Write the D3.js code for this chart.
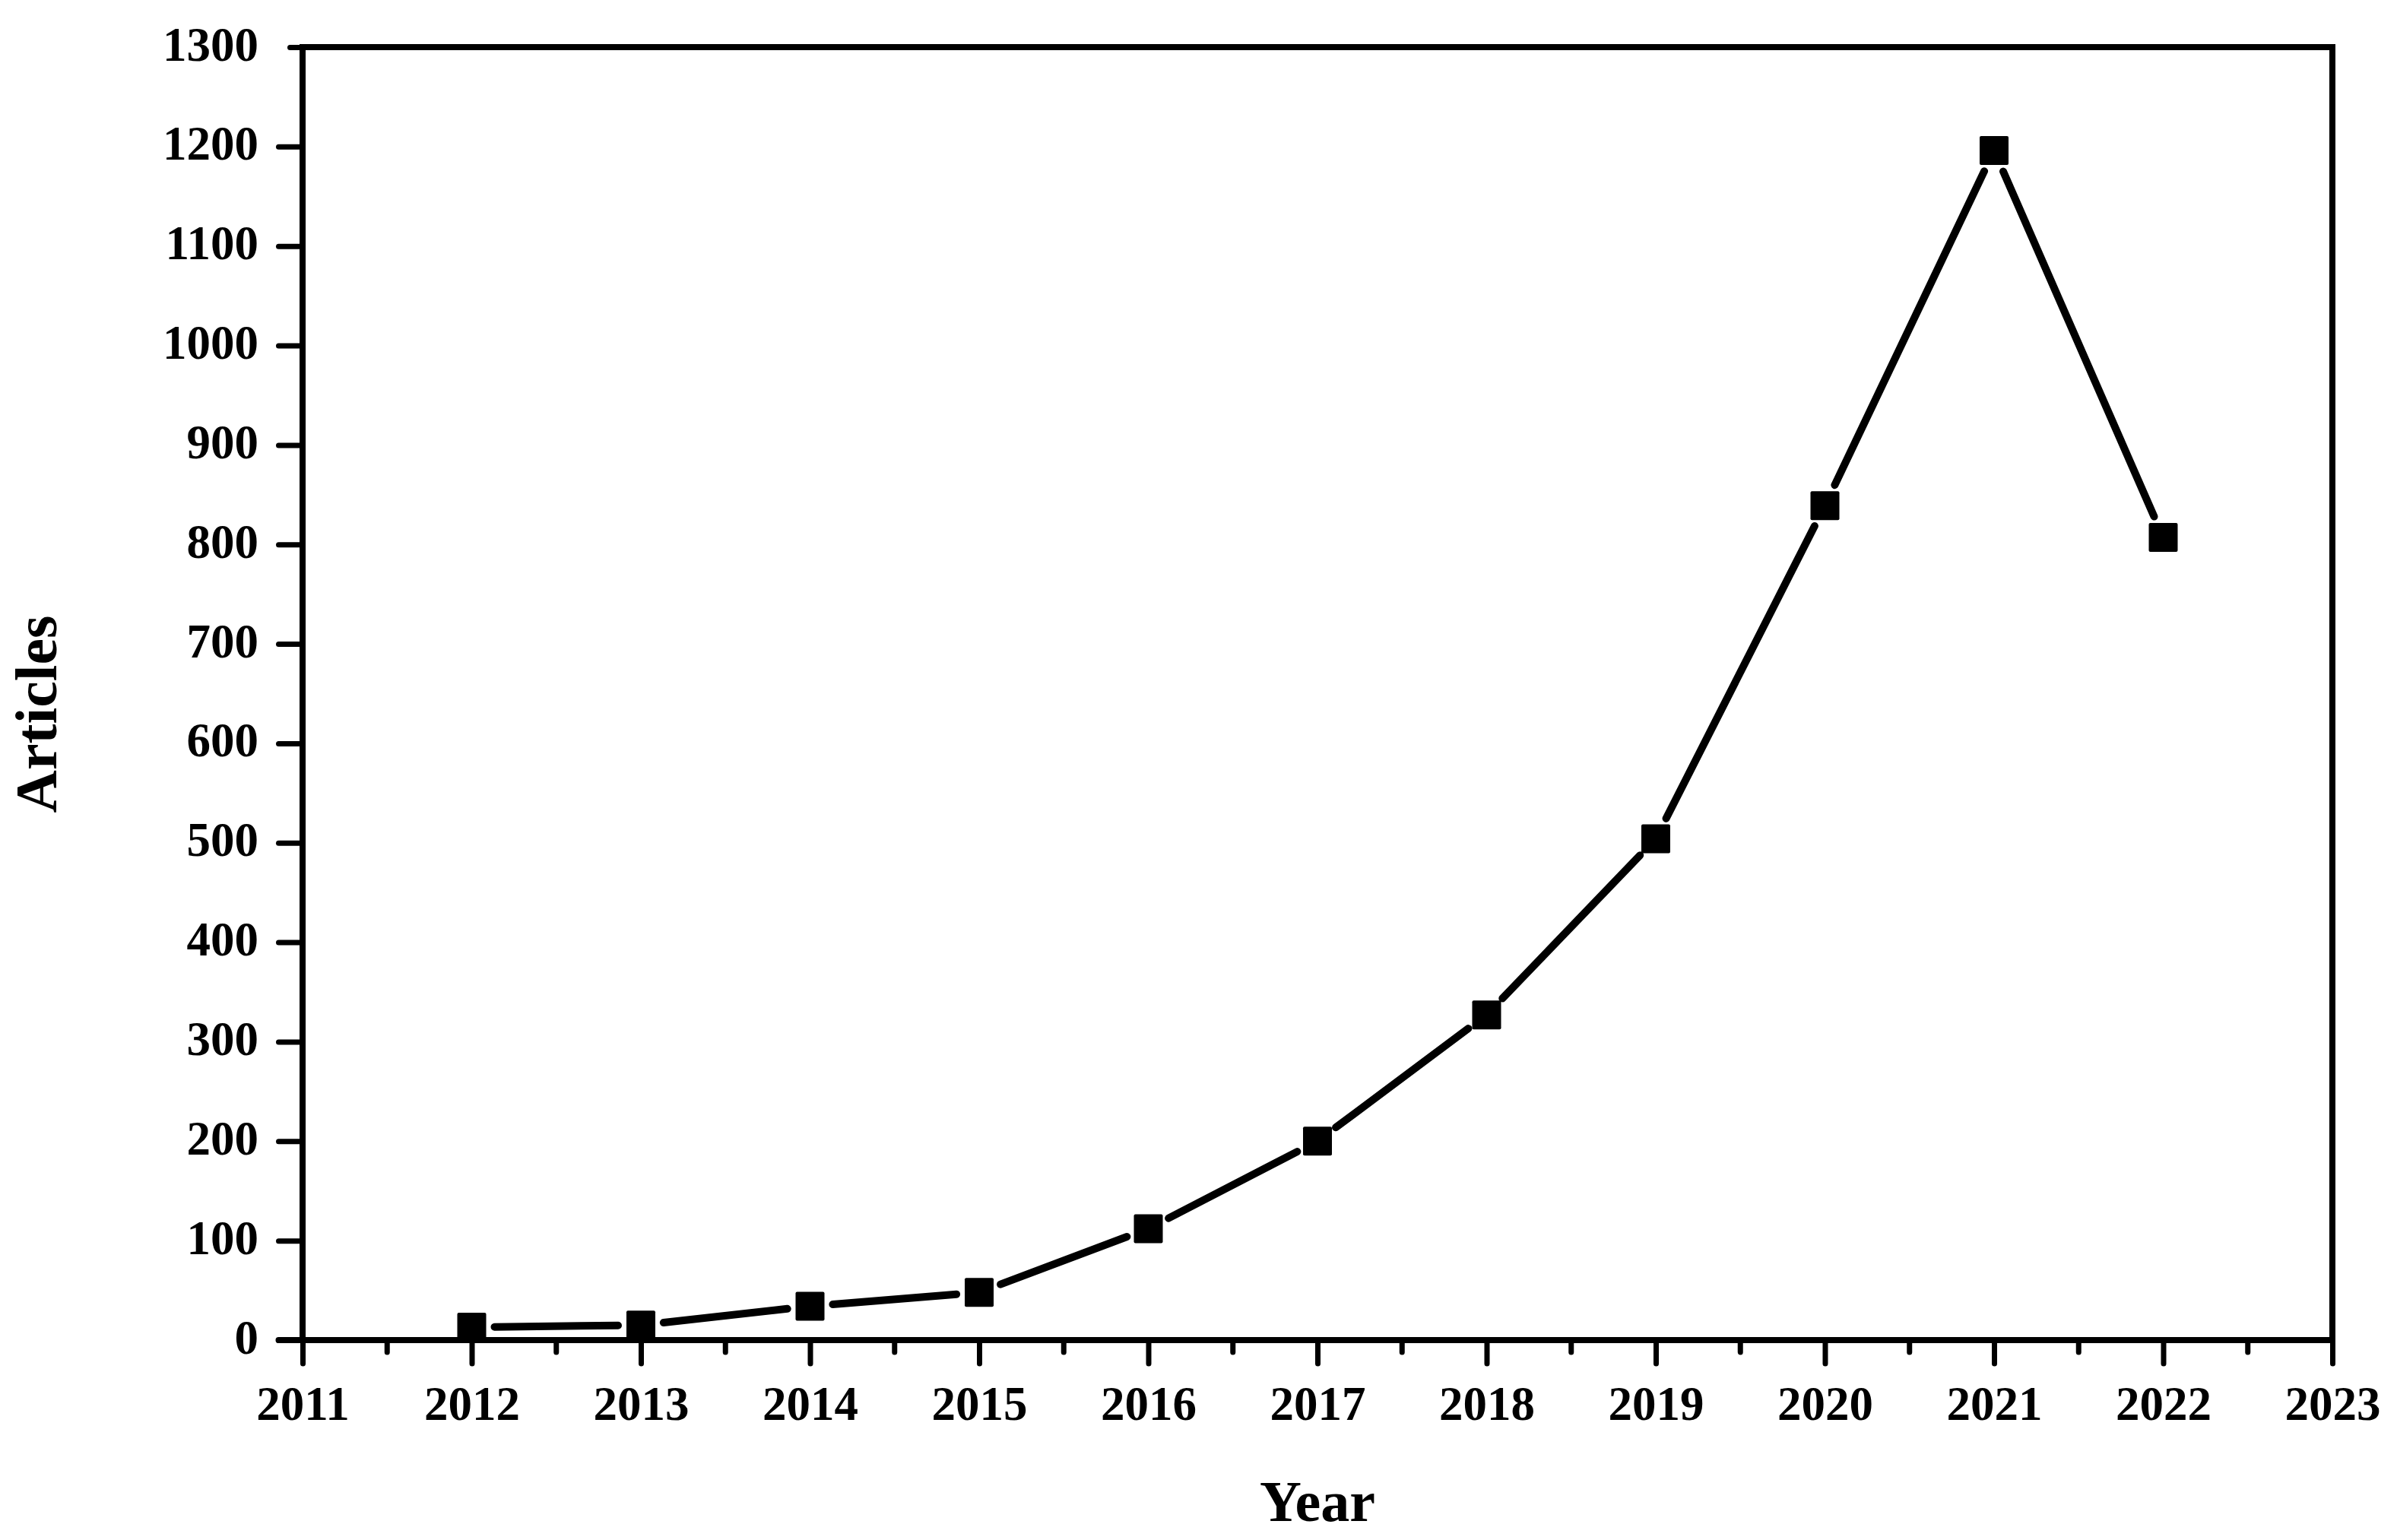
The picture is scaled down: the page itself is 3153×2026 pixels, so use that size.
<!DOCTYPE html>
<html>
<head>
<meta charset="utf-8">
<script src="https://cdn.jsdelivr.net/npm/d3@7"></script>
<style>
  html, body { margin: 0; padding: 0; background: #fff; }
  svg { display: block; }
  text { font-family: "Liberation Serif", "Times New Roman", serif; font-weight: bold; fill: #000; }
</style>
</head>
<body>
<script>
// ---- data ----
const years    = [2012, 2013, 2014, 2015, 2016, 2017, 2018, 2019, 2020, 2021, 2022];
const articles = [13, 15, 34, 48, 112, 200, 327, 504, 839, 1196, 807];
const xTickValues = [2011, 2012, 2013, 2014, 2015, 2016, 2017, 2018, 2019, 2020, 2021, 2022, 2023];
const yTickValues = [0, 100, 200, 300, 400, 500, 600, 700, 800, 900, 1000, 1100, 1200, 1300];
const xLabel = "Year";
const yLabel = "Articles";

// ---- layout ----
const W = 3153, H = 2026;
const L = 398, R = 3068, T = 62, B = 1763;

const svg = d3.select("body").append("svg").attr("width", W).attr("height", H);
svg.append("rect").attr("width", W).attr("height", H).attr("fill", "#fff");

const x = d3.scaleLinear().domain([2011, 2023]).range([L, R]);
const y = d3.scaleLinear().domain([0, 1300]).range([B, T]);

// frame (top + right)
svg.append("path")
  .attr("d", `M${L},${T} H${R} V${B}`)
  .attr("fill", "none").attr("stroke", "#000").attr("stroke-width", 8)
  .attr("stroke-linecap", "square");

// y axis
const yAxis = d3.axisLeft(y).tickValues(yTickValues).tickSize(31.5).tickPadding(26.5).tickFormat(d3.format("d"));
const gy = svg.append("g").attr("transform", `translate(${L},0)`).call(yAxis);
gy.select(".domain").attr("d", `M0,${B} V${T}`).attr("stroke", "#000").attr("stroke-width", 8).attr("stroke-linecap", "square");
gy.selectAll(".tick line").attr("stroke", "#000").attr("stroke-width", 7).attr("stroke-linecap", "round")
  .attr("x2", d => d === 1300 ? -16.5 : -31.5);
gy.selectAll(".tick text").attr("dy", null).attr("y", 17).style("font-size", "63px");

// x axis
const xAxis = d3.axisBottom(x).tickValues(xTickValues).tickSize(31).tickFormat(d3.format("d"));
const gx = svg.append("g").attr("transform", `translate(0,${B})`).call(xAxis);
gx.select(".domain").attr("d", `M${L - 31.5},0 H${R}`).attr("stroke", "#000").attr("stroke-width", 8).attr("stroke-linecap", "round");
gx.selectAll(".tick line").attr("stroke", "#000").attr("stroke-width", 7).attr("stroke-linecap", "round");
gx.selectAll(".tick text").attr("dy", null).attr("y", 105).style("font-size", "63px");

// minor x ticks (half years)
const minor = d3.range(2011.5, 2023, 1);
gx.selectAll(".minor").data(minor).join("line")
  .attr("class", "minor")
  .attr("x1", d => x(d)).attr("x2", d => x(d))
  .attr("y1", 0).attr("y2", 16)
  .attr("stroke", "#000").attr("stroke-width", 7).attr("stroke-linecap", "round");

// axis titles
svg.append("text").attr("x", (L + R) / 2).attr("y", 2001)
  .attr("text-anchor", "middle").style("font-size", "76px").text(xLabel);
svg.append("text").attr("transform", `translate(74,${(T + B) / 2 + 27}) rotate(-90)`)
  .attr("text-anchor", "middle").style("font-size", "78px").text(yLabel);

// data line with gaps around markers
const pts = years.map((yr, i) => [x(yr), y(articles[i])]);
const gap = 30;
const segs = [];
for (let i = 0; i < pts.length - 1; i++) {
  const [x0, y0] = pts[i], [x1, y1] = pts[i + 1];
  const len = Math.hypot(x1 - x0, y1 - y0);
  const ux = (x1 - x0) / len, uy = (y1 - y0) / len;
  segs.push([[x0 + ux * gap, y0 + uy * gap], [x1 - ux * gap, y1 - uy * gap]]);
}
const line = d3.line();
svg.append("g").selectAll("path").data(segs).join("path")
  .attr("d", d => line(d))
  .attr("fill", "none").attr("stroke", "#000").attr("stroke-width", 10).attr("stroke-linecap", "round");

// markers
const ms = 38;
svg.append("g").selectAll("rect").data(years).join("rect")
  .attr("x", (d, i) => x(d) - ms / 2)
  .attr("y", (d, i) => y(articles[i]) - ms / 2)
  .attr("width", ms).attr("height", ms)
  .attr("rx", 2)
  .attr("fill", "#000");
</script>
</body>
</html>
